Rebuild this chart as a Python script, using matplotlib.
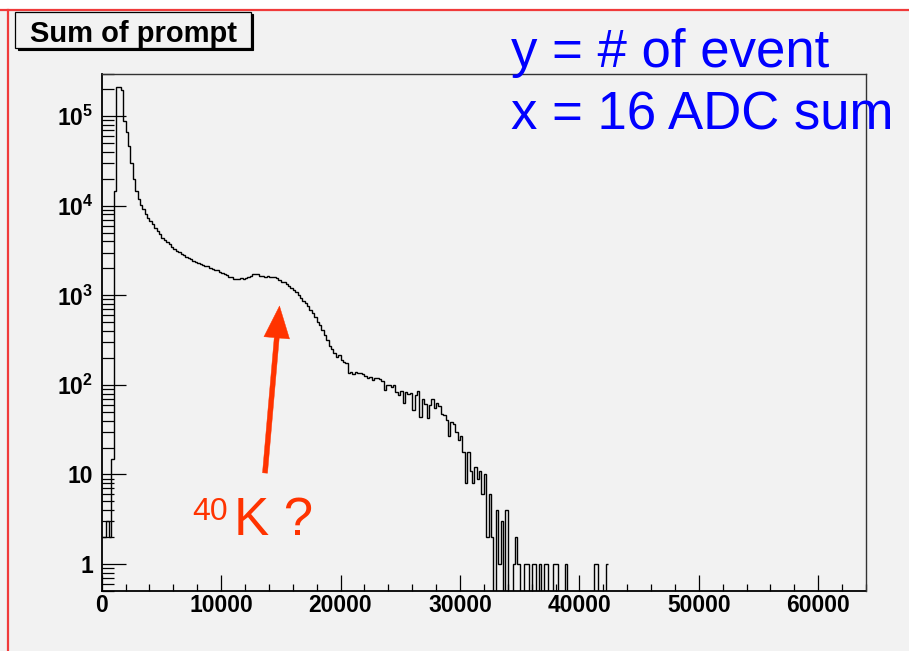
import numpy as np
import matplotlib
matplotlib.use('Agg')
import matplotlib.pyplot as plt
from matplotlib.patches import Rectangle, FancyArrowPatch
from matplotlib.lines import Line2D
from matplotlib.ticker import LogLocator, MultipleLocator, NullFormatter

# prompt sum spectrum, 200 ADC per bin starting at 0
bin_width = 200
counts = [
    2, 2, 3, 2, 15, 14800, 210000, 210000, 195000, 88000,
    66000, 47000, 30000, 20000, 14800, 12000, 10200, 9300, 8000, 7300,
    6800, 6200, 5700, 5200, 4800, 4400, 4100, 3900, 3700, 3500,
    3300, 3150, 3050, 2900, 2800, 2700, 2600, 2550, 2450, 2350,
    2300, 2250, 2200, 2150, 2100, 2040, 1980, 1930, 1900, 1820,
    1790, 1740, 1680, 1620, 1600, 1510, 1540, 1530, 1560, 1540,
    1580, 1600, 1640, 1720, 1740, 1720, 1650, 1660, 1620, 1630,
    1610, 1600, 1590, 1570, 1500, 1420, 1400, 1330, 1270, 1210,
    1150, 1090, 1010, 940, 870, 830, 760, 690, 630, 570,
    510, 465, 415, 360, 315, 275, 255, 230, 205, 215,
    190, 180, 175, 137, 138, 134, 140, 136, 135, 131,
    125, 119, 122, 113, 120, 118, 117, 110, 88, 101,
    100, 96, 100, 84, 77, 86, 63, 84, 80, 82,
    52, 78, 86, 44, 70, 62, 43, 60, 70, 55,
    63, 58, 47, 46, 41, 27, 39, 37, 30, 24,
    27, 18, 8, 18, 11, 8, 12, 9, 11, 6,
    10, 2, 6, 2, 0, 4, 1, 3, 0, 4,
    0, 0, 1, 2, 1, 0, 0, 1, 1, 0,
    1, 1, 0, 1, 0, 1, 1, 0, 0, 1,
    1, 0, 0, 0, 1, 0, 0, 0, 0, 0,
    0, 0, 0, 0, 0, 0, 1, 1, 0, 0,
    0, 1,
]

x_ticks = [0, 10000, 20000, 30000, 40000, 50000, 60000]
x_tick_labels = ['0', '10000', '20000', '30000', '40000', '50000', '60000']
y_ticks = [1, 10, 100, 1000, 10000, 100000]
y_tick_labels = ['1', '10', r'$\mathbf{10^{2}}$', r'$\mathbf{10^{3}}$',
                 r'$\mathbf{10^{4}}$', r'$\mathbf{10^{5}}$']

plt.rcParams['font.family'] = ['Liberation Sans', 'DejaVu Sans']
plt.rcParams['mathtext.fontset'] = 'custom'
plt.rcParams['mathtext.rm'] = 'Liberation Sans'
plt.rcParams['mathtext.bf'] = 'Liberation Sans:bold'
plt.rcParams['mathtext.it'] = 'Liberation Sans:italic'

W, H = 909, 651
bg = '#f2f2f2'
fig = plt.figure(figsize=(W / 100, H / 100), dpi=100)
fig.patch.set_facecolor(bg)


def fx(x):
    return x / W


def fy(y):
    return 1 - y / H


# white strip above the slide border and the red border lines
fig.add_artist(Rectangle((0, fy(9.5)), 1, 1 - fy(9.5), transform=fig.transFigure,
                         facecolor='white', edgecolor='none', zorder=0))
fig.add_artist(Line2D([0, 1], [fy(9.5), fy(9.5)], transform=fig.transFigure,
                      color='#f03a3a', lw=1.6))
fig.add_artist(Line2D([fx(8.3), fx(8.3)], [fy(9.5), 0], transform=fig.transFigure,
                      color='#f03a3a', lw=1.6))

ax = fig.add_axes([fx(101.7), fy(591), fx(866) - fx(101.7), fy(73.5) - fy(591)])
ax.set_facecolor(bg)

edges = np.arange(len(counts) + 1) * bin_width
ax.stairs(counts, edges, baseline=None, color='black', lw=1.0)

ax.set_yscale('log')
ax.set_xlim(0, 64000)
ax.set_ylim(0.5, 3e5)

ax.set_xticks(x_ticks, x_tick_labels, fontweight='bold', fontsize=16.5)
ax.set_yticks(y_ticks, y_tick_labels, fontweight='bold', fontsize=16.5)
ax.xaxis.set_minor_locator(MultipleLocator(2000))
ax.yaxis.set_minor_locator(LogLocator(base=10, subs=np.arange(2, 10), numticks=20))
ax.yaxis.set_minor_formatter(NullFormatter())

ax.tick_params(axis='both', which='both', direction='in', top=False, right=False,
               color='black', width=0.9)
ax.tick_params(axis='x', which='major', length=11.5, pad=2)
ax.tick_params(axis='x', which='minor', length=5.3)
ax.tick_params(axis='y', which='major', length=17.3, pad=6)
ax.tick_params(axis='y', which='minor', length=8.6)

for side in ['left', 'bottom']:
    ax.spines[side].set_linewidth(1.3)
    ax.spines[side].set_color('black')
for side in ['top', 'right']:
    ax.spines[side].set_linewidth(1.0)
    ax.spines[side].set_color('#333333')
    ax.spines[side].set_zorder(5)

# histogram title box with drop shadow
fig.add_artist(Rectangle((fx(17.5), fy(50.2)), fx(251) - fx(15), fy(12.3) - fy(48),
                         transform=fig.transFigure, facecolor='black',
                         edgecolor='black', lw=0.8, zorder=3))
fig.add_artist(Rectangle((fx(15), fy(48)), fx(251) - fx(15), fy(12.3) - fy(48),
                         transform=fig.transFigure, facecolor=bg,
                         edgecolor='black', lw=0.9, zorder=4))
fig.text(fx(133), fy(41.5), 'Sum of prompt', ha='center', va='baseline',
         fontsize=21, fontweight='bold', color='black', zorder=5)

# axis description
fig.text(fx(511), fy(67), 'y = # of event', ha='left', va='baseline',
         fontsize=38, color='#0000ff', zorder=4)
fig.text(fx(511), fy(130), 'x = 16 ADC sum', ha='left', va='baseline',
         fontsize=38, color='#0000ff', zorder=4)

# potassium-40 bump annotation
red = '#ff3300'
arrow = FancyArrowPatch((265, H - 473), (279.5, H - 306), transform=None,
                        arrowstyle='simple,head_length=23,head_width=18.5,tail_width=3.6',
                        mutation_scale=1, shrinkA=0, shrinkB=0,
                        facecolor=red, edgecolor=red, lw=0.3, zorder=6)
fig.add_artist(arrow)
fig.text(fx(192), fy(520), '40', ha='left', va='baseline', fontsize=23,
         color=red, zorder=6)
fig.text(fx(234), fy(535), 'K ?', ha='left', va='baseline', fontsize=38,
         color=red, zorder=6)

fig.savefig('out.png', dpi=100, facecolor=fig.get_facecolor())
